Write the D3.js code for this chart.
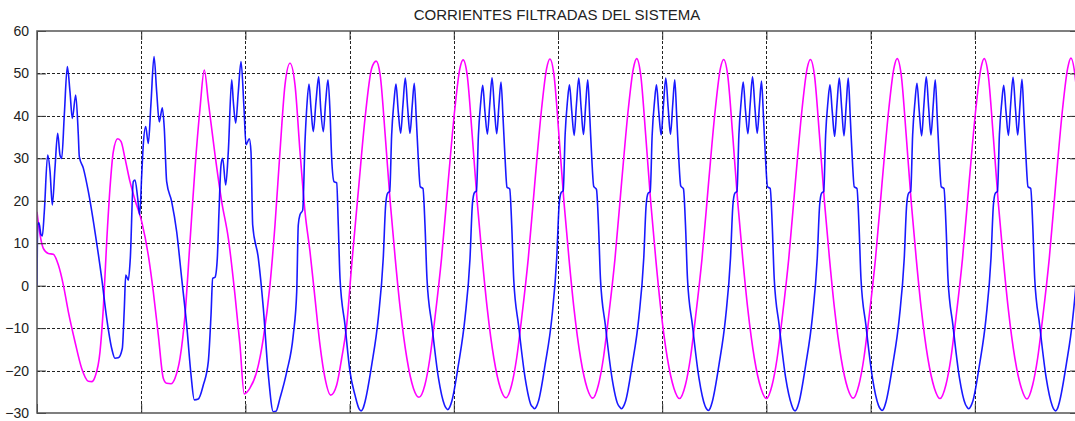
<!DOCTYPE html>
<html>
<head>
<meta charset="utf-8">
<script src="https://cdn.jsdelivr.net/npm/d3@7"></script>
<style>
  html, body { margin: 0; padding: 0; background: #fff; }
  svg { display: block; }
</style>
</head>
<body>
<svg id="chart" width="1075" height="421"></svg>
<script>
// Filtered system currents, time in milliseconds, current in amperes.
const chartTitle = "CORRIENTES FILTRADAS DEL SISTEMA";
const yTicks = [60, 50, 40, 30, 20, 10, 0, -10, -20, -30];
const xGrid = [0, 20, 40, 60, 80, 100, 120, 140, 160, 180, 200];

// Blue trace: sample times (ms) and values
const blueT = [
  0, 0.13, 0.38, 0.77, 1.02, 1.40, 2.05, 2.50, 2.94, 3.45, 3.97, 4.41, 4.74, 5.24, 5.82, 6.33, 6.78, 7.43, 7.93, 8.12,
  8.89, 9.85, 11.13, 12.42, 13.38, 14.34, 14.97, 15.60, 16.37, 16.76, 17.03, 17.52, 17.91, 18.48, 18.81, 19.33, 19.71,
  20.10, 20.40, 20.86, 21.36, 21.88, 22.46, 22.97, 23.47, 24.05, 24.43, 24.89, 25.85, 26.81, 27.77, 28.73, 29.56,
  30.19, 30.96, 31.92, 32.88, 33.40, 33.72, 34.17, 34.61, 34.93, 35.32, 35.64, 36.22, 36.72, 37.37, 37.68, 38.14,
  38.64, 39.16, 39.73, 40.12, 40.75, 41.07, 41.40, 42.48, 43.44, 44.40, 45.36, 45.87, 46.64, 47.93, 49.19, 49.85,
  50.15, 50.48, 51.00, 51.44, 51.77, 52.21, 52.59, 53.03, 53.55, 54.07, 54.45, 54.95, 55.41, 55.85, 56.24, 56.56,
  57.01, 57.52, 57.83, 58.16, 59.12, 60.08, 61.04,
  61.85, 62.20, 62.55, 62.95, 64.24, 65.50, 66.46, 66.92, 67.30, 67.70, 68.07, 68.52, 68.90, 69.34, 69.80, 70.24, 70.69, 71.15,
  71.59, 72.03, 72.41, 72.80, 73.18, 73.56, 74.08, 74.47, 74.85, 75.80, 77.06, 78.21,
  78.50, 78.85, 79.20, 79.60, 80.89, 82.15, 83.11, 83.57, 83.95, 84.35, 84.72, 85.17, 85.55, 85.99, 86.45, 86.89, 87.34, 87.80,
  88.24, 88.68, 89.06, 89.45, 89.83, 90.21, 90.73, 91.12, 91.50, 92.45, 93.71, 94.86,
  95.15, 95.50, 95.85, 96.25, 97.54, 98.80, 99.76, 100.22, 100.60, 101.00, 101.37, 101.82, 102.20, 102.64, 103.10, 103.54, 103.99,
  104.45, 104.89, 105.33, 105.71, 106.10, 106.48, 106.86, 107.38, 107.77, 108.15, 109.10, 110.36, 111.51,
  111.85, 112.20, 112.55, 112.95, 114.24, 115.50, 116.46, 116.92, 117.30, 117.70, 118.07, 118.52, 118.90, 119.34, 119.80, 120.24,
  120.69, 121.15, 121.59, 122.03, 122.41, 122.80, 123.18, 123.56, 124.08, 124.47, 124.85, 125.80, 127.06, 128.21,
  128.50, 128.85, 129.20, 129.60, 130.89, 132.15, 133.11, 133.57, 133.95, 134.35, 134.72, 135.17, 135.55, 135.99, 136.45, 136.89,
  137.34, 137.80, 138.24, 138.68, 139.06, 139.45, 139.83, 140.21, 140.73, 141.12, 141.50, 142.45, 143.71, 144.86,
  145.15, 145.50, 145.85, 146.25, 147.54, 148.80, 149.76, 150.22, 150.60, 151.00, 151.37, 151.82, 152.20, 152.64, 153.10, 153.54,
  153.99, 154.45, 154.89, 155.33, 155.71, 156.10, 156.48, 156.86, 157.38, 157.77, 158.15, 159.10, 160.36, 161.51,
  161.85, 162.20, 162.55, 162.95, 164.24, 165.50, 166.46, 166.92, 167.30, 167.70, 168.07, 168.52, 168.90, 169.34, 169.80, 170.24,
  170.69, 171.15, 171.59, 172.03, 172.41, 172.80, 173.18, 173.56, 174.08, 174.47, 174.85, 175.80, 177.06, 178.21,
  178.50, 178.85, 179.20, 179.60, 180.89, 182.15, 183.11, 183.57, 183.95, 184.35, 184.72, 185.17, 185.55, 185.99, 186.45, 186.89,
  187.34, 187.80, 188.24, 188.68, 189.06, 189.45, 189.83, 190.21, 190.73, 191.12, 191.50, 192.45, 193.71, 194.86,
  195.15, 195.50, 195.85, 196.25, 197.54, 198.80, 199.76, 200.22
];
const blueV = [
  0, 14.4, 14.8, 12.0, 11.7, 17.4, 30.8, 27.0, 19.0, 27.7, 35.9, 30.8, 30.0, 40.2, 51.6, 45.7, 39.4, 44.9, 35.5, 30.4,
  27.7, 22.2, 12.7, 1.7, -7.7, -14.8, -17.1, -17.0, -14.8, -5.3, 2.5, 1.3, 6.5, 24.5, 24.9, 20.6, 16.7,
  26.1, 33.2, 37.5, 33.5, 43.0, 54.0, 45.7, 38.6, 41.9, 37.1, 24.5, 19.8, 12.7, 1.7, -9.3, -21.0,
  -26.9, -26.7, -23.4, -17.9, -6.9, 1.7, 2.0, 6.5, 17.4, 28.4, 30.0, 23.7, 31.6, 48.5, 43.4, 38.3,
  45.7, 52.8, 41.8, 33.2, 34.6, 31.6, 14.3, 6.5, -5.3, -21.0, -29.7, -29.6, -26.5, -20.3, -11.6, -1.4,
  14.3, 16.7, 17.8, 33.9, 41.8, 47.5, 41.8, 36.3, 43.4, 49.2, 41.8, 36.3, 43.4, 48.5, 41.0, 30.0,
  24.5, 24.2, 14.3, 1.7, -9.3, -20.3, -25.8,
  -29.1, -29.5, -29.0, -27.4, -18.7, -7.7, 6.5, 19.0, 21.8, 22.2, 35.5, 43.4, 47.5, 41.0, 35.9, 42.6, 48.9, 41.8,
  35.9, 42.6, 47.7, 39.4, 30.0, 23.3, 22.9, 14.3, 1.7, -9.3, -21.8, -28.1,
  -28.8, -29.2, -28.7, -27.3, -18.6, -7.6, 6.4, 19.2, 21.9, 22.3, 35.3, 43.2, 47.2, 40.8, 35.7, 42.5, 49.0, 41.6,
  35.8, 42.8, 48.0, 39.6, 30.2, 23.2, 22.8, 14.2, 1.5, -9.5, -21.9, -28.2,
  -28.6, -29.0, -28.5, -27.2, -18.5, -7.8, 6.6, 19.1, 21.9, 22.4, 35.6, 43.5, 47.3, 41.1, 35.4, 42.7, 48.9,
  41.7, 35.6, 42.9, 48.5, 39.8, 30.1, 23.4, 22.7, 14.4, 1.6, -9.4, -21.7, -28.0,
  -28.6, -29.0, -28.5, -27.3, -18.6, -7.7, 6.5, 19.0, 21.8, 22.1, 35.4, 43.3, 47.3, 41.0, 35.5, 42.6,
  48.9, 41.8, 35.7, 42.8, 48.5, 39.5, 30.0, 23.5, 22.8, 14.3, 1.7, -9.3, -21.8, -28.3,
  -29.0, -29.4, -28.9, -27.4, -18.7, -7.7, 6.5, 19.0, 21.8, 22.2, 35.5, 43.6, 48.0, 41.2, 35.8, 42.8,
  49.2, 41.9, 35.9, 42.7, 48.2, 39.4, 30.0, 23.3, 22.9, 14.3, 1.7, -9.3, -21.8, -28.2,
  -29.1, -29.5, -29.0, -27.5, -18.7, -7.7, 6.5, 19.0, 21.8, 22.2, 35.5, 43.4, 47.3, 41.0, 35.2, 42.6,
  48.9, 41.8, 35.3, 42.8, 48.9, 39.6, 30.0, 23.3, 22.9, 14.3, 1.7, -9.3, -21.8, -28.2,
  -29.0, -29.4, -28.9, -27.4, -18.7, -7.7, 6.5, 19.0, 21.8, 22.2, 35.5, 43.4, 47.7, 41.0, 35.3, 42.7,
  49.2, 41.8, 35.5, 42.8, 48.5, 39.4, 30.0, 23.3, 22.9, 14.3, 1.7, -9.3, -21.8, -28.0,
  -28.6, -29.0, -28.5, -27.3, -18.7, -7.7, 6.5, 19.0, 21.8, 22.2, 35.5, 43.2, 47.2, 41.0, 35.4, 42.8,
  49.1, 41.8, 35.5, 42.8, 48.6, 39.4, 30.0, 23.3, 22.9, 14.3, 1.7, -9.3, -21.8, -28.3,
  -29.1, -29.5, -29.0, -27.4, -18.7, -7.7, 6.5, 19.0
];

// Magenta trace: sample times (ms) and values
const magentaT = [
  0, 0.58, 1.21, 2.17, 3.13, 4.09, 5.05, 6.01, 7.29, 8.58, 9.85, 10.50, 11.13, 12.09, 12.73, 13.38, 14.01, 14.65,
  15.49, 16.12, 16.89, 17.85, 18.81, 20.10, 21.36, 22.32, 23.28, 24.24, 24.89, 25.72, 26.49, 27.45, 28.41, 29.37,
  30.33, 31.29, 32.11, 32.88, 34.17, 35.45, 36.72, 38.00, 38.96, 39.77, 40.84, 42.17, 43.44, 44.72, 45.68, 46.64,
  47.60, 48.56, 49.52, 50.48, 51.44, 52.40, 53.36, 54.32, 55.28, 56.37, 57.52, 58.48, 59.44, 60.40, 61.67, 62.96,
  64.24, 65.10,
  65.87, 66.83, 67.79, 68.75, 69.71, 70.99, 72.26, 73.32, 74.45, 75.41, 76.37, 77.65, 78.92, 80.21, 81.17, 81.80,
  82.57, 83.53, 84.49, 85.45, 86.41, 87.69, 88.96, 90.02, 91.10, 92.06, 93.02, 94.30, 95.57, 96.86, 97.82, 98.45,
  99.22, 100.18, 101.14, 102.10, 103.06, 104.34, 105.61, 106.67, 107.75, 108.71, 109.67, 110.95, 112.22, 113.51, 114.47, 115.10,
  115.87, 116.83, 117.79, 118.75, 119.71, 120.99, 122.26, 123.32, 124.45, 125.41, 126.37, 127.65, 128.92, 130.21, 131.17, 131.80,
  132.57, 133.53, 134.49, 135.45, 136.41, 137.69, 138.96, 140.02, 141.10, 142.06, 143.02, 144.30, 145.57, 146.86, 147.82, 148.45,
  149.22, 150.18, 151.14, 152.10, 153.06, 154.34, 155.61, 156.67, 157.75, 158.71, 159.67, 160.95, 162.22, 163.51, 164.47, 165.10,
  165.87, 166.83, 167.79, 168.75, 169.71, 170.99, 172.26, 173.32, 174.45, 175.41, 176.37, 177.65, 178.92, 180.21, 181.17, 181.80,
  182.57, 183.53, 184.49, 185.45, 186.41, 187.69, 188.96, 190.02, 191.10, 192.06, 193.02, 194.30, 195.57, 196.86, 197.82, 198.45,
  199.22, 200.18
];
const magentaV = [
  17.4, 12.0, 8.8, 7.6, 7.4, 4.9, 0.2, -6.1, -13.2, -19.5, -22.5, -22.6, -21.5, -15.6, -5.3, 10.4, 23.0, 31.6,
  34.6, 34.0, 30.0, 24.5, 20.2, 15.1, 7.2, -1.4, -11.6, -21.8, -23.0, -23.1, -21.8, -17.1, -6.9, 10.4,
  27.7, 41.8, 50.8, 43.4, 30.8, 19.8, 11.2, -2.2, -14.0, -25.5, -24.2, -20.3, -12.4, 0.2, 14.3, 31.6,
  47.3, 52.4, 47.3, 31.6, 17.4, 8.0, -3.0, -14.0, -21.8, -25.8, -23.4, -17.1, -9.3, 4.9, 22.2, 39.4,
  51.2, 52.9,
  49.6, 35.5, 19.8, 6.5, -5.3, -17.1, -24.2, -26.3, -23.4, -17.1, -7.7, 6.5, 24.5, 41.8, 51.2, 53.2,
  49.6, 35.5, 19.8, 6.5, -5.3, -17.1, -24.2, -26.4, -23.4, -17.1, -7.7, 6.5, 24.5, 41.8, 51.2, 53.4,
  49.7, 35.5, 19.8, 6.5, -5.3, -17.1, -24.2, -26.5, -23.4, -17.1, -7.7, 6.5, 24.5, 41.8, 51.2, 53.5,
  49.7, 35.5, 19.8, 6.5, -5.3, -17.1, -24.2, -26.6, -23.4, -17.1, -7.7, 6.5, 24.5, 41.8, 51.2, 53.3,
  49.6, 35.5, 19.8, 6.5, -5.3, -17.1, -24.2, -26.6, -23.4, -17.1, -7.7, 6.5, 24.5, 41.8, 51.2, 53.3,
  49.6, 35.5, 19.8, 6.5, -5.3, -17.1, -24.2, -26.5, -23.4, -17.1, -7.7, 6.5, 24.5, 41.8, 51.2, 53.5,
  49.7, 35.5, 19.8, 6.5, -5.3, -17.1, -24.2, -26.6, -23.4, -17.1, -7.7, 6.5, 24.5, 41.8, 51.2, 53.5,
  49.7, 35.5, 19.8, 6.5, -5.3, -17.1, -24.2, -26.7, -23.4, -17.1, -7.7, 6.5, 24.5, 41.8, 51.2, 53.6,
  49.7, 35.5
];

const svg = d3.select("#chart");
const margin = { left: 37, top: 31, right: 1079, bottom: 413 };

const x = d3.scaleLinear().domain([0, 200]).range([margin.left, margin.right]);
const y = d3.scaleLinear().domain([-30, 60]).range([margin.bottom, margin.top]);

svg.append("rect").attr("width", 1075).attr("height", 421).attr("fill", "#fff");

svg.append("defs").append("clipPath").attr("id", "plotClip")
  .append("rect")
  .attr("x", margin.left).attr("y", margin.top)
  .attr("width", margin.right - margin.left).attr("height", margin.bottom - margin.top);

// Dotted grid
const grid = svg.append("g").attr("stroke", "#222").attr("stroke-width", 1)
  .attr("stroke-dasharray", "3,2").attr("fill", "none");
yTicks.filter(v => v > -30 && v < 60).forEach(v => {
  grid.append("line")
    .attr("x1", margin.left).attr("x2", margin.right)
    .attr("y1", Math.round(y(v)) + 0.5).attr("y2", Math.round(y(v)) + 0.5);
});
xGrid.filter(t => t > 0 && t < 200).forEach(t => {
  grid.append("line")
    .attr("y1", margin.top).attr("y2", margin.bottom)
    .attr("x1", Math.round(x(t)) + 0.5).attr("x2", Math.round(x(t)) + 0.5);
});

// Curves
const line = d3.line()
  .x(d => x(d[0]))
  .y(d => y(d[1]))
  .curve(d3.curveMonotoneX);

const plot = svg.append("g").attr("clip-path", "url(#plotClip)");
plot.append("path")
  .datum(magentaT.map((t, i) => [t, magentaV[i]]))
  .attr("fill", "none").attr("stroke", "#ff00ff").attr("stroke-width", 1.6)
  .attr("stroke-linejoin", "round")
  .attr("d", line);
plot.append("path")
  .datum(blueT.map((t, i) => [t, blueV[i]]))
  .attr("fill", "none").attr("stroke", "#0000ff").attr("stroke-width", 1.6)
  .attr("stroke-opacity", 0.9)
  .attr("stroke-linejoin", "round")
  .attr("d", line);

// Axes: left labels with inward ticks on both sides, frame box
const yAxisL = d3.axisLeft(y).tickValues(yTicks).tickSize(-9).tickPadding(8).tickFormat(d3.format("d"));
const gL = svg.append("g").attr("transform", `translate(${margin.left},0)`).call(yAxisL);
gL.select(".domain").remove();
gL.selectAll(".tick line").attr("stroke", "#333");
gL.selectAll(".tick text")
  .attr("x", -8)
  .attr("fill", "#222")
  .style("font-family", "'Liberation Sans', Arial, sans-serif")
  .style("font-size", "14px");

const yAxisR = d3.axisRight(y).tickValues(yTicks).tickSize(-9).tickFormat("");
const gR = svg.append("g").attr("transform", `translate(${margin.right},0)`).call(yAxisR);
gR.select(".domain").remove();
gR.selectAll(".tick line").attr("stroke", "#333");

const xAxisB = d3.axisBottom(x).tickValues(xGrid).tickSize(-9).tickFormat("");
const gB = svg.append("g").attr("transform", `translate(0,${margin.bottom})`).call(xAxisB);
gB.select(".domain").remove();
gB.selectAll(".tick line").attr("stroke", "#333");

const xAxisT = d3.axisTop(x).tickValues(xGrid).tickSize(-9).tickFormat("");
const gT = svg.append("g").attr("transform", `translate(0,${margin.top})`).call(xAxisT);
gT.select(".domain").remove();
gT.selectAll(".tick line").attr("stroke", "#333");

svg.append("rect")
  .attr("x", margin.left).attr("y", margin.top)
  .attr("width", margin.right - margin.left).attr("height", margin.bottom - margin.top)
  .attr("fill", "none").attr("stroke", "#555").attr("stroke-width", 1.5);

// Title
svg.append("text")
  .attr("x", (margin.left + margin.right) / 2 - 1)
  .attr("y", 20)
  .attr("text-anchor", "middle")
  .attr("fill", "#222")
  .style("font-family", "'Liberation Sans', Arial, sans-serif")
  .style("font-size", "15px")
  .text(chartTitle);
</script>
</body>
</html>
